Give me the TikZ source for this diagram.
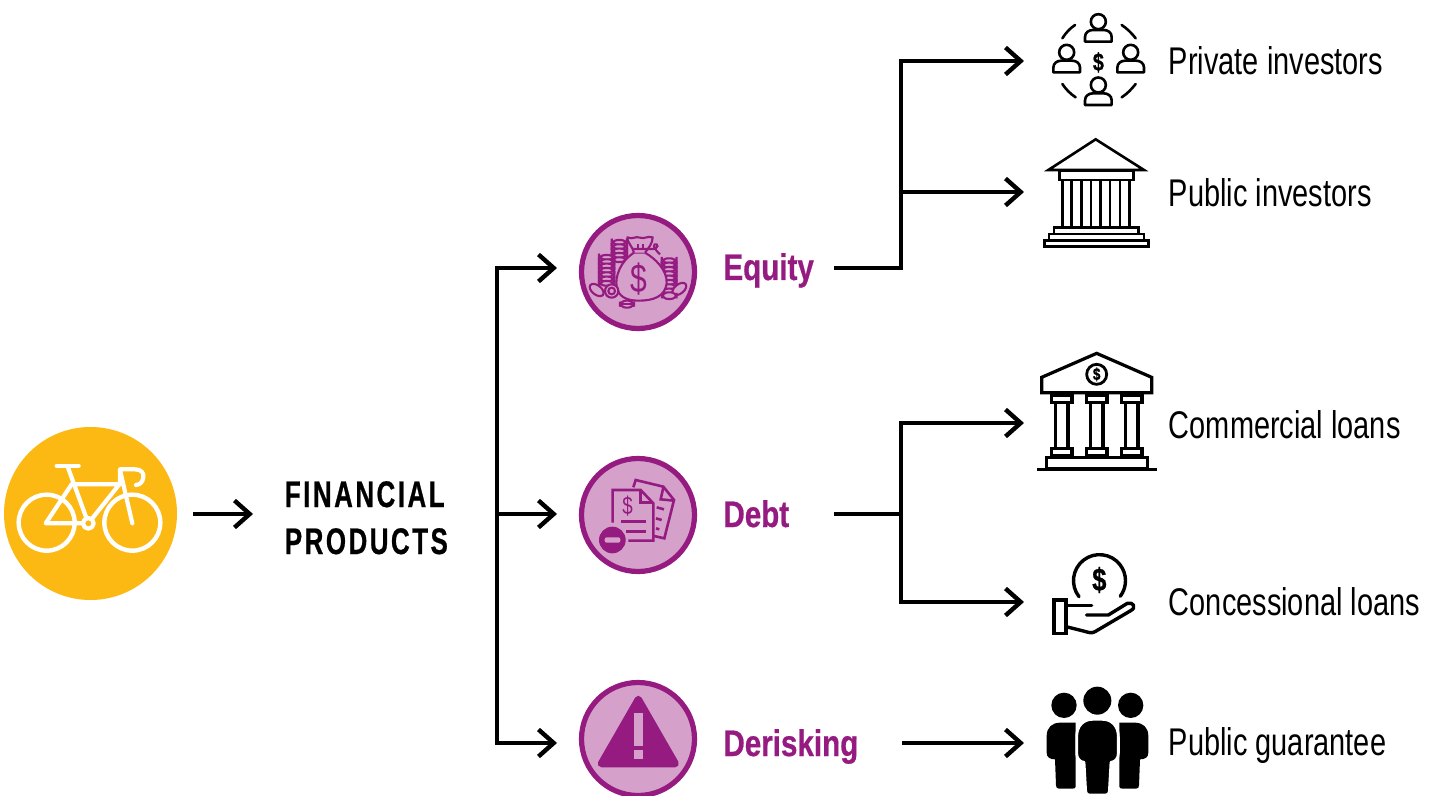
\documentclass[tikz,border=0pt]{standalone}
\usepackage{fontspec}
\setmainfont[FakeStretch=0.75,BoldFeatures={FakeStretch=0.80,FakeBold=0.6}]{Liberation Sans}
\newfontfamily\fpfont[FakeStretch=0.70,LetterSpace=6.8,BoldFeatures={FakeStretch=0.70,FakeBold=0.6,LetterSpace=6.8}]{Liberation Sans}
\usetikzlibrary{arrows.meta}
\definecolor{bikey}{HTML}{FDB913}
\definecolor{plum}{HTML}{951B81}
\definecolor{pinkf}{HTML}{D5A1CB}
\tikzset{
  conn/.style={line width=2.2pt,draw=black},
  arr/.style={conn,-{Straight Barb[length=7.6pt,width=13.5pt]}},
  zs/.style={x=0.166667pt,y=-0.166667pt},
  badge/.style={circle,draw=plum,fill=pinkf,line width=2.6pt,minimum size=56.5pt,inner sep=0pt},
  lbl/.style={anchor=base west,inner sep=0pt,font=\fontsize{19.3}{20}\selectfont},
  cat/.style={anchor=base west,inner sep=0pt,text=plum,font=\fontsize{18.5}{20}\selectfont\bfseries},
  ic/.style={line width=1.3pt,draw=black,line join=miter},
  pl/.style={line width=1.05pt,draw=plum},
  bikel/.style={line width=2.1pt,draw=white,line cap=round,line join=round},
}
\newcommand{\coinstack}[4]{% x, y top, width, rows
  \foreach \i in {1,...,#4}{
    \draw[pl,fill=pinkf,rounded corners=3pt] ({#1},{#2+(\i-1)*13}) rectangle ({#1+#3},{#2+(\i-1)*13+14});
  }}
\newcommand{\person}[2]{% head centre x, y
  \draw[line width=1.3pt] (#1,#2) circle (22.5);
  \draw[line width=1.3pt,line join=round] (#1-40,#2+60) -- (#1-40,#2+46) .. controls (#1-40,#2+32) and (#1-28,#2+25) .. (#1-16,#2+25) -- (#1+16,#2+25) .. controls (#1+28,#2+25) and (#1+40,#2+32) .. (#1+40,#2+46) -- (#1+40,#2+60) -- cycle;
}
\begin{document}
\begin{tikzpicture}[x=0.5pt,y=-0.5pt]
\useasboundingbox (0,0) rectangle (1434,796);
\clip (0,0) rectangle (1434,796);

% ---------- main nodes
\node[circle,fill=bikey,minimum size=86.5pt,inner sep=0pt] (bike) at (90.5,513.5) {};
\node[anchor=base west,inner sep=0pt,align=left,font=\fpfont\fontsize{18.5}{23.5}\selectfont\bfseries] (fp) at (284.5,554) {FINANCIAL\\PRODUCTS};
\node[badge] (eq) at (638,272) {};
\node[badge] (de) at (638,515) {};
\node[badge] (dr) at (638,739) {};
\node[cat] (eql) at (723,280) {Equity};
\node[cat] (del) at (723,527) {Debt};
\node[cat] (drl) at (723,756) {Derisking};
\node[lbl] (pi) at (1168.5,75) {Private investors};
\node[lbl] (pu) at (1168.5,207) {Public investors};
\node[lbl] (co) at (1168.5,438) {Commercial loans};
\node[lbl] (cn) at (1168.5,615.5) {Concessional loans};
\node[lbl] (pg) at (1168.5,755.5) {Public guarantee};

% ---------- connector points
\coordinate (fpin) at (253,514);
\coordinate (bkout) at (193,514);
\coordinate (tr) at (497,514);
\coordinate (a1) at (557,268);
\coordinate (a2) at (557,514);
\coordinate (a3) at (557,743);
\coordinate (e0) at (834,268);
\coordinate (e1) at (901,268);
\coordinate (e2) at (901,192);
\coordinate (t1) at (1024,61);
\coordinate (t2) at (1024,192);
\coordinate (d0) at (834,514);
\coordinate (d1) at (901,514);
\coordinate (t3) at (1024,423);
\coordinate (t4) at (1024,602);
\coordinate (r0) at (902,743);
\coordinate (t5) at (1024,743);

\draw[arr] (bkout) -- (fpin);
\draw[arr] (tr) |- (a1);
\draw[arr] (tr) |- (a3);
\draw[arr] (tr) -- (a2);
\draw[arr] (e0) -- (e1) |- (t1);
\draw[arr] (e2) -- (t2);
\draw[arr] (d1) |- (t3);
\draw[arr] (d1) |- (t4);
\draw[conn] (d0) -- (d1);
\draw[arr] (r0) -- (t5);

% ---------- bicycle
\begin{scope}[shift={(0,420)},zs]
\draw[bikel,line width=2.2pt] (140,308) circle (84);
\draw[bikel,line width=2.2pt] (397,308) circle (84);
\draw[bikel] (170,137) -- (236,137);
\draw[bikel] (203,140) -- (265,310);
\draw[bikel] (215,193) -- (358,193) -- (265,310);
\draw[bikel] (215,193) -- (137,310) -- (265,310);
\draw[bikel] (360,150) -- (397,310);
\draw[bikel] (360,193) -- (360,148) -- (405,148) .. controls (425,148) and (432,160) .. (430,172) .. controls (428,186) and (420,194) .. (408,195);
\draw[bikel,fill=bikey] (265,310) circle (16);
\end{scope}

% ---------- equity icon
\begin{scope}[shift={(570,205)},zs]
\coinstack{125}{105}{46}{5}
\coinstack{87}{150}{46}{7}
\coinstack{275}{160}{45}{8}
\draw[pl,fill=pinkf,rotate around={-38:(80,255)}] (80,255) ellipse (24 and 14);
\draw[pl,fill=pinkf,rotate around={38:(328,252)}] (328,252) ellipse (24 and 14);
\draw[pl,fill=pinkf,rounded corners=3pt] (276,262) rectangle (320,282);
\draw[pl,fill=pinkf,line join=round] (192,143) .. controls (150,170) and (135,215) .. (140,245) .. controls (145,275) and (170,287) .. (205,287) .. controls (250,287) and (285,275) .. (290,235) .. controls (292,195) and (255,160) .. (225,143) -- cycle;
\draw[pl,fill=pinkf,line join=round] (192,143) .. controls (188,125) and (170,110) .. (172,97) .. controls (190,105) and (195,92) .. (210,98) .. controls (225,103) and (230,92) .. (248,97) .. controls (248,115) and (235,130) .. (225,143);
\draw[pl] (190,132) -- (238,132) .. controls (255,135) and (268,125) .. (260,118) .. controls (250,115) and (245,125) .. (270,148);
\draw[pl] (205,118) -- (205,130);
\draw[pl] (220,118) -- (220,130);
\draw[pl,fill=pinkf] (125,258) circle (20);
\draw[pl] (125,258) circle (10);
\draw[pl,fill=pinkf,rounded corners=3pt] (150,287) rectangle (192,308);
\draw[pl] (150,297) -- (192,297);
\node[text=plum,inner sep=0pt,font=\fontsize{20}{20}\selectfont] (eqd) at (207,222) {\$};
\end{scope}

% ---------- debt icon
\begin{scope}[shift={(570,450)},zs]
\draw[pl,line width=1.3pt] (190,112) -- (197,90) -- (280,110) -- (312,150) -- (283,265) -- (252,258);
\draw[pl,line width=1.3pt] (280,112) -- (272,148) -- (312,152);
\draw[pl,line width=1.3pt] (260,172) -- (282,178);
\draw[pl,line width=1.3pt] (258,205) -- (275,210);
\draw[pl,line width=1.3pt] (258,235) -- (268,238);
\draw[pl,line width=1.3pt,fill=pinkf] (128,218) -- (128,120) -- (212,120) -- (250,160) -- (250,272) -- (175,272);
\draw[pl,line width=1.3pt] (212,122) -- (212,158) -- (250,158);
\draw[pl,line width=1.5pt] (153,215) -- (228,215);
\draw[pl,line width=1.5pt] (168,243) -- (228,243);
\node[text=plum,inner sep=0pt,font=\fontsize{12.5}{13}\selectfont] (ded) at (173,167) {\$};
\fill[plum] (127,270) circle (40);
\fill[pinkf,rounded corners=1pt] (104,262) rectangle (151,278);
\end{scope}

% ---------- derisking icon
\begin{scope}[shift={(570,675)},zs]
\draw[plum,fill=plum,line width=3.6pt,line join=round] (205,73) -- (316,266) -- (94,266) -- cycle;
\fill[pinkf] (191,115) rectangle (219,212);
\fill[pinkf] (191,225) rectangle (219,252);
\end{scope}

% ---------- private investors icon
\begin{scope}[shift={(1030,5)},zs]
\person{205}{50}
\person{110}{142}
\person{302}{142}
\person{205}{240}
\node[inner sep=0pt,font=\fontsize{12.5}{13}\selectfont\bfseries] (pid) at (205,172) {\$};
\draw[line width=1.3pt,line cap=round] (97,100) .. controls (107,84) and (120,70) .. (135,60);
\draw[line width=1.3pt,line cap=round] (275,60) .. controls (290,70) and (305,84) .. (317,100);
\draw[line width=1.3pt,line cap=round] (97,237) .. controls (107,252) and (120,266) .. (137,277);
\draw[line width=1.3pt,line cap=round] (275,277) .. controls (292,266) and (305,252) .. (317,237);
\end{scope}

% ---------- public investors icon
\begin{scope}[shift={(1030,130)},zs]
\draw[ic] (197,28) -- (342,120) -- (55,120) -- cycle;
\draw[ic] (88,122) rectangle (310,150);
\foreach \x in {97,125,155,183,212,240,270,298}{\draw[ic] (\x,150) -- (\x,292);}
\draw[ic] (72,292) rectangle (325,312);
\draw[ic] (57,312) rectangle (342,332);
\draw[ic] (43,332) rectangle (355,350);
\end{scope}

% ---------- commercial loans icon
\begin{scope}[shift={(1030,345)},zs]
\draw[ic,line width=1.6pt] (200,25) -- (365,97) -- (365,143) -- (35,143) -- (35,97) -- cycle;
\draw[ic,line width=1.4pt] (200,88) circle (30);
\node[inner sep=0pt,font=\fontsize{8.5}{9}\selectfont\bfseries] (cod) at (200,88) {\$};
\foreach \x in {95,200,305}{
  \draw[ic,line width=1.6pt] (\x-31,150) rectangle (\x+31,172);
  \draw[ic,line width=1.6pt] (\x-19,172) rectangle (\x+19,310);
  \draw[ic,line width=1.6pt] (\x-31,310) rectangle (\x+31,332);
}
\draw[ic,line width=1.6pt] (50,338) rectangle (352,372);
\draw[ic,line width=1.6pt] (22,374) -- (380,374);
\end{scope}

% ---------- concessional loans icon
\begin{scope}[shift={(1040,545)},zs]
\draw[line width=1.7pt,line cap=round] (117,155) arc[start angle=142,end angle=397,radius=78];
\node[inner sep=0pt,font=\fontsize{16}{16}\selectfont\bfseries] (cnd) at (178,105) {\$};
\draw[line width=1.7pt] (42,165) rectangle (78,265);
\draw[line width=1.7pt,line cap=round,line join=round] (78,182) -- (155,182);
\draw[line width=1.7pt,line cap=round,line join=round] (140,210) -- (205,210) -- (262,175) .. controls (280,170) and (290,188) .. (272,197) -- (165,260) .. controls (155,266) and (145,262) .. (130,258) -- (78,245);
\end{scope}

% ---------- public guarantee icon
\begin{scope}[shift={(1035,680)},zs]
\fill (87,76) circle (38);
\fill (287,76) circle (38);
\fill (187,62) circle (42);
\fill (35,168) .. controls (35,142) and (52,128) .. (75,128) -- (122,128) -- (122,320) .. controls (122,324) and (118,326) .. (112,326) -- (72,326) .. controls (66,326) and (63,322) .. (63,316) -- (60,238) .. controls (45,238) and (35,232) .. (35,218) -- cycle;
\fill (340,168) .. controls (340,142) and (323,128) .. (300,128) -- (253,128) -- (253,320) .. controls (253,324) and (257,326) .. (263,326) -- (303,326) .. controls (309,326) and (312,322) .. (312,316) -- (315,238) .. controls (330,238) and (340,232) .. (340,218) -- cycle;
\draw[white,line width=1.4pt,fill=black,line join=round] (125,170) .. controls (125,138) and (145,118) .. (172,118) -- (203,118) .. controls (230,118) and (250,138) .. (250,170) -- (250,220) .. controls (250,236) and (240,246) .. (228,247) -- (223,335) .. controls (222,342) and (218,345) .. (212,345) -- (163,345) .. controls (157,345) and (153,342) .. (152,335) -- (147,247) .. controls (135,246) and (125,236) .. (125,220) -- cycle;
\end{scope}
\end{tikzpicture}
\end{document}
